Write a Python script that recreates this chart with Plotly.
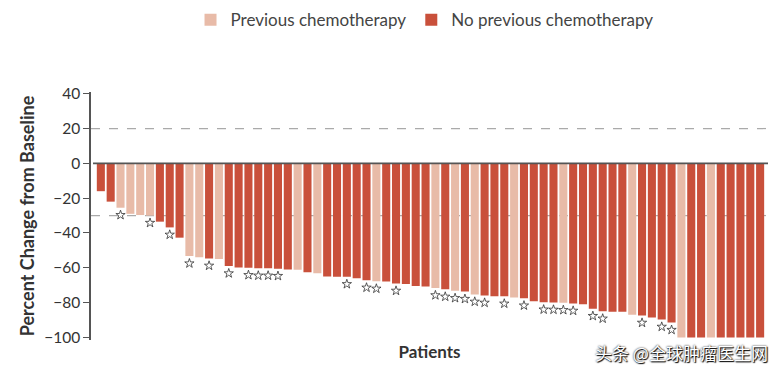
import plotly.graph_objects as go

# Percent change from baseline, one value per patient (sorted waterfall)
change_pct = [
    -16, -22, -25.5, -29, -29.7, -30, -33.5, -36.8, -42.7, -53.3,
    -54, -54.6, -55, -59, -59.8, -60, -60.3, -60.3, -60.5, -61,
    -61.1, -62.6, -63.2, -65, -65.1, -65.2, -66, -67.2, -67.8, -67.9,
    -69, -69.3, -70.5, -70.7, -71.6, -72.4, -73.2, -73.7, -75.3, -75.9,
    -76.3, -76.4, -77.1, -77.5, -79.2, -79.8, -79.9, -80.1, -80.5, -81,
    -83.5, -85, -85.2, -85.3, -87, -87.4, -88.5, -89.7, -91.5, -100,
    -100, -100, -100, -100, -100, -100, -100, -100,
]
# 1 = previous chemotherapy, 0 = no previous chemotherapy
prior_chemo = [
    0, 0, 1, 1, 1, 1, 0, 0, 0, 1,
    1, 0, 1, 0, 0, 0, 0, 0, 0, 0,
    1, 0, 1, 0, 0, 0, 0, 0, 1, 0,
    0, 0, 0, 0, 1, 0, 1, 0, 1, 0,
    0, 0, 1, 0, 0, 0, 0, 1, 0, 0,
    0, 0, 0, 0, 1, 0, 0, 0, 0, 1,
    0, 0, 1, 0, 0, 0, 0, 0,
]
# 1 = asterisk under the bar
asterisk = [
    0, 0, 1, 0, 0, 1, 0, 1, 0, 1,
    0, 1, 0, 1, 0, 1, 1, 1, 1, 0,
    0, 0, 0, 0, 0, 1, 0, 1, 1, 0,
    1, 0, 0, 0, 1, 1, 1, 1, 1, 1,
    0, 1, 0, 1, 0, 1, 1, 1, 1, 0,
    1, 1, 0, 0, 0, 1, 0, 1, 1, 0,
    0, 0, 0, 0, 0, 0, 0, 0,
]
group_names = ["Previous chemotherapy", "No previous chemotherapy"]
group_colors = ["#E8BBA8", "#C9503B"]
y_ticks = [40, 20, 0, -20, -40, -60, -80, -100]
ref_lines = [20, -30]

patients = list(range(1, len(change_pct) + 1))

fig = go.Figure()
for flag, name, color in [(1, group_names[0], group_colors[0]), (0, group_names[1], group_colors[1])]:
    xs = [p for p, f in zip(patients, prior_chemo) if f == flag]
    ys = [v for v, f in zip(change_pct, prior_chemo) if f == flag]
    fig.add_trace(go.Bar(x=xs, y=ys, name=name, width=0.82,
                         marker=dict(color=color, line=dict(width=0))))

sx = [p for p, a in zip(patients, asterisk) if a]
sy = [v - 4.2 for v, a in zip(change_pct, asterisk) if a]
fig.add_trace(go.Scatter(x=sx, y=sy, mode="markers", showlegend=False, hoverinfo="skip",
                         marker=dict(symbol="star-open", size=7, color="#333",
                                     line=dict(width=0.8, color="#333"))))

for yv in ref_lines:
    fig.add_shape(type="line", xref="paper", x0=0, x1=1, y0=yv, y1=yv,
                  line=dict(color="#AAAAAA", width=1.2, dash="dash"), layer="below")
fig.add_shape(type="line", xref="paper", x0=0.003, x1=1, y0=0, y1=0,
              line=dict(color="#555555", width=1.6), layer="above")

fig.add_annotation(text="头条 @全球肿瘤医生网", xref="paper", yref="paper",
                   x=1.003, y=-0.05, xanchor="right", yanchor="middle", showarrow=False,
                   font=dict(family="Noto Sans CJK SC", size=17, color="white",
                             shadow="0px 0px 2px #000, 1px 1px 1px #000"))

fig.update_layout(
    width=779, height=374,
    margin=dict(l=91, r=11, t=92, b=34, autoexpand=False),
    paper_bgcolor="white", plot_bgcolor="white",
    font=dict(family="Lato", color="#333"),
    barmode="overlay",
    showlegend=True,
    legend=dict(orientation="h", x=0.147, y=1.29, xanchor="left", yanchor="middle",
                font=dict(size=17, color="#444"), itemsizing="constant",
                traceorder="normal", itemwidth=30),
    xaxis=dict(range=[0, 68.8], showticklabels=False, ticks="", showgrid=False,
               zeroline=False, showline=False, automargin=False,
               title=dict(text="<b>Patients</b>", font=dict(size=17, color="#333"), standoff=6)),
    yaxis=dict(range=[-101.5, 41], tickvals=y_ticks, showgrid=False, zeroline=False,
               showline=True, linecolor="#555", linewidth=1.5, automargin=False,
               ticks="outside", ticklen=6, tickcolor="#555", tickwidth=1.2,
               tickfont=dict(size=15.5, color="#333"),
               title=dict(text="<b>Percent Change from Baseline</b>",
                          font=dict(size=18, color="#333"), standoff=5)),
)

fig.write_html("out.html", config={"displayModeBar": False},
               post_script="document.body.style.margin='0';")
